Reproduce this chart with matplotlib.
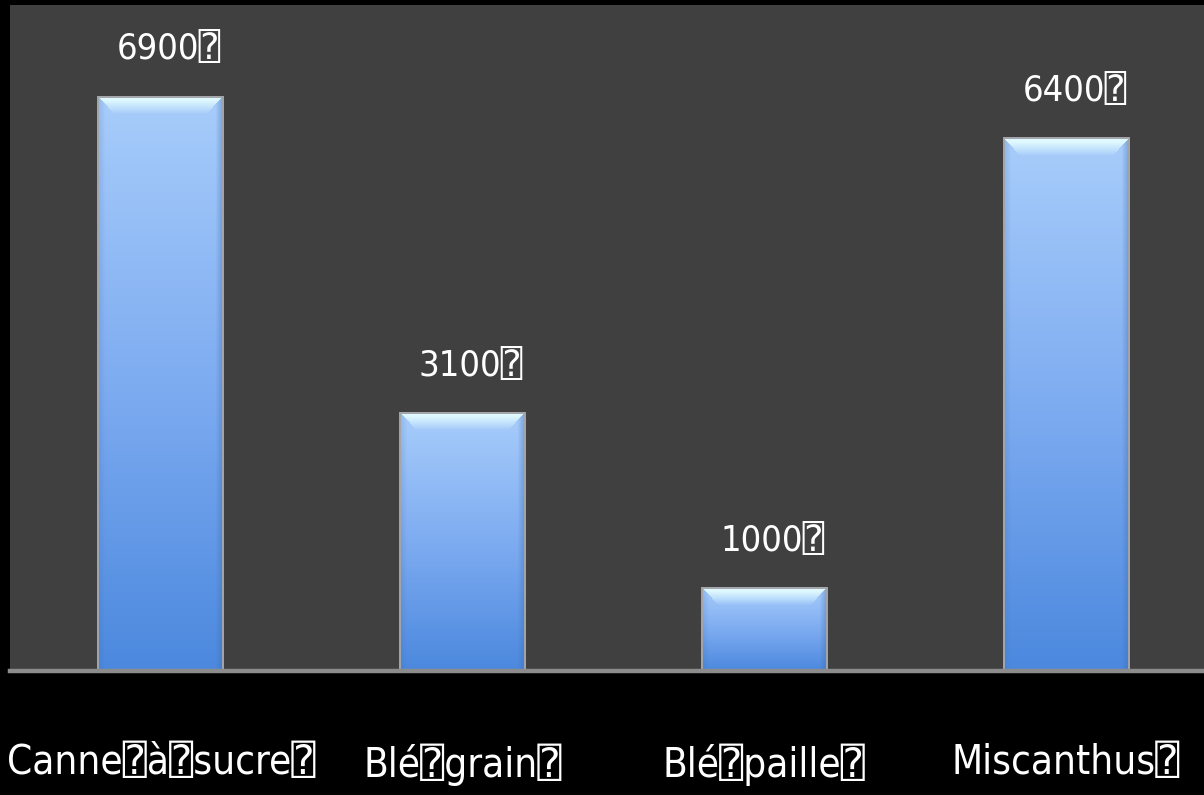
import numpy as np
import matplotlib
matplotlib.use("Agg")
import matplotlib.pyplot as plt
from matplotlib.colors import to_rgb
from matplotlib import font_manager as fm

# rendement (valeurs lues au-dessus des barres)
categories = ["Canne\u2370à\u2370sucre\u2370", "Blé\u2370grain\u2370", "Blé\u2370paille\u2370", "Miscanthus\u2370"]
values = [6900, 3100, 1000, 6400]
value_labels = ["6900\u2370", "3100\u2370", "1000\u2370", "6400\u2370"]

# prefer a condensed face when one is installed
has_cond = any(f.name == "DejaVu Sans" and f.stretch == "condensed"
               for f in fm.fontManager.ttflist)
if has_cond:
    FONT = dict(family=["DejaVu Sans", "DejaVu Sans Mono"], stretch="condensed")
else:
    FONT = dict(family=["Liberation Sans", "DejaVu Sans", "DejaVu Sans Mono"])

fig = plt.figure(figsize=(12.04, 7.95), dpi=100, facecolor="black")
ax = fig.add_axes([10 / 1204, 124 / 795, 1194 / 1204, 666 / 795])
ax.set_facecolor("#404040")
x = np.arange(len(values))
ax.set_xlim(-0.5, 3.457)
ax.set_ylim(0, 8000)

bars = ax.bar(x, values, width=0.414, color="none", edgecolor="#a3a6aa",
              linewidth=1.4, zorder=3)


def mix(a, b, w):
    w = w[..., None]
    return a * (1 - w) + b * w


top_c = np.array(to_rgb("#a8cdfb"))
mid_c = np.array(to_rgb("#7eacf1"))
bot_c = np.array(to_rgb("#4b88de"))
side_c = np.array(to_rgb("#3e6aa8"))
glow_c = np.array(to_rgb("#e4fdff"))

# gradient fill + bevel drawn inside each bar
for p in bars.patches:
    x0, w, h = p.get_x(), p.get_width(), p.get_height()
    (px0, py0) = ax.transData.transform((x0, 0))
    (px1, py1) = ax.transData.transform((x0 + w, h))
    nr, nc = max(int(round(py1 - py0)), 2), max(int(round(px1 - px0)), 2)
    d = np.arange(nr)[:, None] * np.ones((1, nc))
    col = np.arange(nc)[None, :] * np.ones((nr, 1))
    s = np.minimum(col, nc - 1 - col)
    f = d / (nr - 1)
    img = np.where((f < 0.5)[..., None], mix(top_c, mid_c, f * 2),
                   mix(mid_c, bot_c, (f - 0.5) * 2))
    # slightly darker sides, a bit more on the right
    edge = np.clip(1 - s / 7, 0, 1) * np.where(col > nc / 2, 0.4, 0.2)
    img = mix(img, side_c, edge)
    # light top bevel with slanted corners
    bevel = np.clip(1.25 - d / 14, 0, 1) * (s > d * 0.9)
    img = mix(img, glow_c, bevel * 0.92)
    ax.imshow(img, extent=(x0, x0 + w, 0, h), aspect="auto", zorder=2,
              interpolation="bilinear")

ax.set_xlim(-0.5, 3.457)
ax.set_ylim(0, 8000)

for xi, v, lab in zip(x, values, value_labels):
    ax.annotate(lab, (xi, v), xytext=(6, 34), textcoords="offset points",
                ha="center", va="center", color="white", fontsize=26,
                zorder=4, **FONT)

ax.axhline(0, color="#8c8c8c", lw=3.2, clip_on=False, zorder=4)

ax.set_xticks(x, categories)
ax.tick_params(axis="x", length=0, pad=52, colors="white", labelsize=29)
for t in ax.get_xticklabels():
    t.set_family(FONT["family"])
    if "stretch" in FONT:
        t.set_stretch(FONT["stretch"])
ax.set_yticks([])
for sp in ax.spines.values():
    sp.set_visible(False)

fig.savefig("out.png", dpi=100, facecolor="black")
